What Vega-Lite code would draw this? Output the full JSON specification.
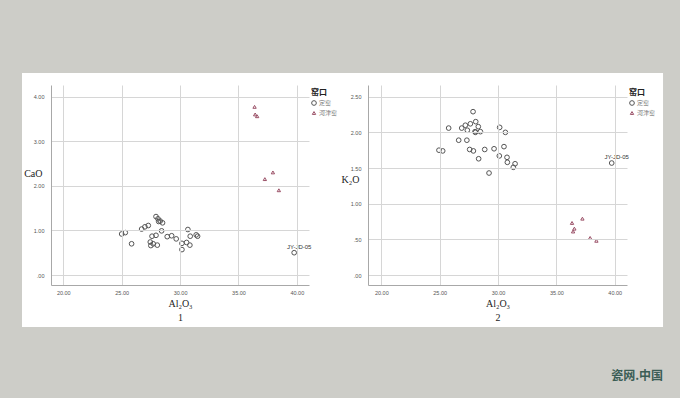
{
  "$schema": "https://vega.github.io/schema/vega-lite/v6.json",
  "background": "#cdcdc8",
  "padding": {"left": 21, "top": 73, "right": 18, "bottom": 15},
  "bounds": "flush",
  "spacing": 59,
  "title": {"text": "瓷网.中国", "orient": "bottom", "anchor": "end", "offset": 44, "font": "Noto Sans CJK SC", "fontSize": 12, "fontWeight": "bold", "color": "#3b5d55"},
  "datasets": {
    "cao": [
      {"kiln": "定窑", "Al2O3": 25.0, "CaO": 0.92},
      {"kiln": "定窑", "Al2O3": 25.31, "CaO": 0.95},
      {"kiln": "定窑", "Al2O3": 25.85, "CaO": 0.70},
      {"kiln": "定窑", "Al2O3": 26.71, "CaO": 1.03},
      {"kiln": "定窑", "Al2O3": 26.99, "CaO": 1.08},
      {"kiln": "定窑", "Al2O3": 27.28, "CaO": 1.11},
      {"kiln": "定窑", "Al2O3": 27.45, "CaO": 0.74},
      {"kiln": "定窑", "Al2O3": 27.5, "CaO": 0.66},
      {"kiln": "定窑", "Al2O3": 27.6, "CaO": 0.87},
      {"kiln": "定窑", "Al2O3": 27.7, "CaO": 0.70},
      {"kiln": "定窑", "Al2O3": 27.94, "CaO": 0.89},
      {"kiln": "定窑", "Al2O3": 27.94, "CaO": 1.31},
      {"kiln": "定窑", "Al2O3": 28.11, "CaO": 1.26},
      {"kiln": "定窑", "Al2O3": 28.17, "CaO": 1.20},
      {"kiln": "定窑", "Al2O3": 28.3, "CaO": 1.21},
      {"kiln": "定窑", "Al2O3": 28.5, "CaO": 1.17},
      {"kiln": "定窑", "Al2O3": 28.42, "CaO": 0.99},
      {"kiln": "定窑", "Al2O3": 28.05, "CaO": 0.67},
      {"kiln": "定窑", "Al2O3": 28.9, "CaO": 0.86},
      {"kiln": "定窑", "Al2O3": 29.28, "CaO": 0.88},
      {"kiln": "定窑", "Al2O3": 29.67, "CaO": 0.81},
      {"kiln": "定窑", "Al2O3": 30.16, "CaO": 0.71},
      {"kiln": "定窑", "Al2O3": 30.16, "CaO": 0.57},
      {"kiln": "定窑", "Al2O3": 30.56, "CaO": 0.73},
      {"kiln": "定窑", "Al2O3": 30.67, "CaO": 1.02},
      {"kiln": "定窑", "Al2O3": 30.84, "CaO": 0.67},
      {"kiln": "定窑", "Al2O3": 30.87, "CaO": 0.87},
      {"kiln": "定窑", "Al2O3": 31.38, "CaO": 0.90},
      {"kiln": "定窑", "Al2O3": 31.5, "CaO": 0.87},
      {"kiln": "定窑", "Al2O3": 39.77, "CaO": 0.50, "label": "JY-JD-05"},
      {"kiln": "河津窑", "Al2O3": 36.38, "CaO": 3.77},
      {"kiln": "河津窑", "Al2O3": 36.43, "CaO": 3.60},
      {"kiln": "河津窑", "Al2O3": 36.6, "CaO": 3.56},
      {"kiln": "河津窑", "Al2O3": 37.95, "CaO": 2.30},
      {"kiln": "河津窑", "Al2O3": 37.26, "CaO": 2.15},
      {"kiln": "河津窑", "Al2O3": 38.46, "CaO": 1.90}
    ],
    "k2o": [
      {"kiln": "定窑", "Al2O3": 24.94, "K2O": 1.75},
      {"kiln": "定窑", "Al2O3": 25.26, "K2O": 1.74},
      {"kiln": "定窑", "Al2O3": 25.77, "K2O": 2.06},
      {"kiln": "定窑", "Al2O3": 26.63, "K2O": 1.89},
      {"kiln": "定窑", "Al2O3": 26.89, "K2O": 2.06},
      {"kiln": "定窑", "Al2O3": 27.2, "K2O": 2.10},
      {"kiln": "定窑", "Al2O3": 27.37, "K2O": 2.03},
      {"kiln": "定窑", "Al2O3": 27.33, "K2O": 1.89},
      {"kiln": "定窑", "Al2O3": 27.57, "K2O": 1.76},
      {"kiln": "定窑", "Al2O3": 27.63, "K2O": 2.12},
      {"kiln": "定窑", "Al2O3": 27.86, "K2O": 2.29},
      {"kiln": "定窑", "Al2O3": 27.89, "K2O": 1.74},
      {"kiln": "定窑", "Al2O3": 28.03, "K2O": 2.01},
      {"kiln": "定窑", "Al2O3": 28.06, "K2O": 2.00},
      {"kiln": "定窑", "Al2O3": 28.09, "K2O": 2.15},
      {"kiln": "定窑", "Al2O3": 28.31, "K2O": 2.08},
      {"kiln": "定窑", "Al2O3": 28.34, "K2O": 1.63},
      {"kiln": "定窑", "Al2O3": 28.49, "K2O": 2.01},
      {"kiln": "定窑", "Al2O3": 28.86, "K2O": 1.76},
      {"kiln": "定窑", "Al2O3": 29.23, "K2O": 1.43},
      {"kiln": "定窑", "Al2O3": 29.66, "K2O": 1.77},
      {"kiln": "定窑", "Al2O3": 30.11, "K2O": 1.67},
      {"kiln": "定窑", "Al2O3": 30.14, "K2O": 2.07},
      {"kiln": "定窑", "Al2O3": 30.51, "K2O": 1.80},
      {"kiln": "定窑", "Al2O3": 30.63, "K2O": 2.00},
      {"kiln": "定窑", "Al2O3": 30.77, "K2O": 1.65},
      {"kiln": "定窑", "Al2O3": 30.8, "K2O": 1.58},
      {"kiln": "定窑", "Al2O3": 31.31, "K2O": 1.51},
      {"kiln": "定窑", "Al2O3": 31.46, "K2O": 1.56},
      {"kiln": "定窑", "Al2O3": 39.74, "K2O": 1.57, "label": "JY-JD-05"},
      {"kiln": "河津窑", "Al2O3": 36.34, "K2O": 0.73},
      {"kiln": "河津窑", "Al2O3": 36.54, "K2O": 0.65},
      {"kiln": "河津窑", "Al2O3": 36.43, "K2O": 0.61},
      {"kiln": "河津窑", "Al2O3": 37.23, "K2O": 0.79},
      {"kiln": "河津窑", "Al2O3": 37.89, "K2O": 0.52},
      {"kiln": "河津窑", "Al2O3": 38.43, "K2O": 0.48}
    ]
  },
  "hconcat": [
    {
      "width": 258,
      "height": 200,
      "layer": [
        {
          "data": {"values": [{}]},
          "mark": {"type": "rect", "fill": "white", "strokeWidth": 0, "zindex": 0},
          "encoding": {
            "x": {"datum": 16.467, "type": "quantitative", "scale": {"domain": [18.95, 41.04], "nice": false, "zero": false},
                  "axis": {"zindex": 1, "tickCount": 10, "values": [20, 25, 30, 35, 40], "format": ".2f", "title": ["Al₂O₃", "1"]}},
            "x2": {"datum": 43.864},
            "y": {"datum": 4.529, "type": "quantitative", "scale": {"domain": [-0.224, 4.26], "nice": false, "zero": false},
                  "axis": {"zindex": 1, "tickCount": 10, "values": [0, 1, 2, 3, 4], "labelExpr": "datum.value < 1 ? substring(format(datum.value, '.2f'), 1) : format(datum.value, '.2f')", "title": "CaO", "titleY": 88}},
            "y2": {"datum": -1.166}
          }
        },
        {
          "data": {"name": "cao"},
          "mark": {"type": "point", "filled": false, "strokeWidth": 1, "opacity": 1, "zindex": 2},
          "encoding": {
            "x": {"field": "Al2O3", "type": "quantitative", "axis": {"zindex": 1, "tickCount": 10, "values": [20, 25, 30, 35, 40], "format": ".2f", "title": ["Al₂O₃", "1"]}},
            "y": {"field": "CaO", "type": "quantitative", "axis": {"zindex": 1, "tickCount": 10, "values": [0, 1, 2, 3, 4], "labelExpr": "datum.value < 1 ? substring(format(datum.value, '.2f'), 1) : format(datum.value, '.2f')", "title": "CaO", "titleY": 88}},
            "color": {"field": "kiln", "type": "nominal", "scale": {"domain": ["定窑", "河津窑"], "range": ["#555555", "#9a4f66"]},
                      "legend": {"title": "窑口", "encode": {"labels": {"update": {"fill": {"signal": "datum.value === '河津窑' ? '#b5506c' : '#777777'"}}}}}},
            "shape": {"field": "kiln", "type": "nominal", "scale": {"domain": ["定窑", "河津窑"], "range": ["circle", "triangle-up"]},
                      "legend": {"title": "窑口", "encode": {"labels": {"update": {"fill": {"signal": "datum.value === '河津窑' ? '#b5506c' : '#777777'"}}}}}},
            "size": {"field": "kiln", "type": "nominal", "scale": {"domain": ["定窑", "河津窑"], "range": [22, 11]}, "legend": null}
          }
        },
        {
          "data": {"name": "cao"},
          "transform": [{"filter": "datum.label"}],
          "mark": {"type": "text", "font": "Liberation Sans", "fontSize": 6, "color": "#333333", "dx": 5, "dy": -6, "zindex": 2},
          "encoding": {
            "x": {"field": "Al2O3", "type": "quantitative"},
            "y": {"field": "CaO", "type": "quantitative"},
            "text": {"field": "label"}
          }
        }
      ]
    },
    {
      "width": 259,
      "height": 200,
      "layer": [
        {
          "data": {"values": [{}]},
          "mark": {"type": "rect", "fill": "white", "strokeWidth": 0, "zindex": 0},
          "encoding": {
            "x": {"datum": 16.461, "type": "quantitative", "scale": {"domain": [18.86, 41.05], "nice": false, "zero": false},
                  "axis": {"zindex": 1, "tickCount": 10, "values": [20, 25, 30, 35, 40], "format": ".2f", "title": ["Al₂O₃", "2"]}},
            "x2": {"datum": 44.138},
            "y": {"datum": 2.832, "type": "quantitative", "scale": {"domain": [-0.14, 2.664], "nice": false, "zero": false},
                  "axis": {"zindex": 1, "tickCount": 10, "values": [0, 0.5, 1, 1.5, 2, 2.5], "labelExpr": "datum.value < 1 ? substring(format(datum.value, '.2f'), 1) : format(datum.value, '.2f')", "title": "K₂O", "titleY": 94}},
            "y2": {"datum": -0.729}
          }
        },
        {
          "data": {"name": "k2o"},
          "mark": {"type": "point", "filled": false, "strokeWidth": 1, "opacity": 1, "zindex": 2},
          "encoding": {
            "x": {"field": "Al2O3", "type": "quantitative", "axis": {"zindex": 1, "tickCount": 10, "values": [20, 25, 30, 35, 40], "format": ".2f", "title": ["Al₂O₃", "2"]}},
            "y": {"field": "K2O", "type": "quantitative", "axis": {"zindex": 1, "tickCount": 10, "values": [0, 0.5, 1, 1.5, 2, 2.5], "labelExpr": "datum.value < 1 ? substring(format(datum.value, '.2f'), 1) : format(datum.value, '.2f')", "title": "K₂O", "titleY": 94}},
            "color": {"field": "kiln", "type": "nominal", "scale": {"domain": ["定窑", "河津窑"], "range": ["#555555", "#9a4f66"]},
                      "legend": {"title": "窑口", "encode": {"labels": {"update": {"fill": {"signal": "datum.value === '河津窑' ? '#b5506c' : '#777777'"}}}}}},
            "shape": {"field": "kiln", "type": "nominal", "scale": {"domain": ["定窑", "河津窑"], "range": ["circle", "triangle-up"]},
                      "legend": {"title": "窑口", "encode": {"labels": {"update": {"fill": {"signal": "datum.value === '河津窑' ? '#b5506c' : '#777777'"}}}}}},
            "size": {"field": "kiln", "type": "nominal", "scale": {"domain": ["定窑", "河津窑"], "range": [22, 11]}, "legend": null}
          }
        },
        {
          "data": {"name": "k2o"},
          "transform": [{"filter": "datum.label"}],
          "mark": {"type": "text", "font": "Liberation Sans", "fontSize": 6, "color": "#333333", "dx": 5, "dy": -6, "zindex": 2},
          "encoding": {
            "x": {"field": "Al2O3", "type": "quantitative"},
            "y": {"field": "K2O", "type": "quantitative"},
            "text": {"field": "label"}
          }
        }
      ]
    }
  ],
  "resolve": {"scale": {"color": "independent", "shape": "independent", "size": "independent"}, "legend": {"color": "independent", "shape": "independent"}},
  "config": {
    "view": {"stroke": null},
    "axis": {
      "grid": true,
      "gridColor": "#d6d6d6",
      "gridWidth": 1,
      "domainColor": "#a8a8a8",
      "domainWidth": 1,
      "ticks": false,
      "labelFont": "Liberation Sans",
      "labelFontSize": 5.5,
      "labelColor": "#555555",
      "titleFont": "Liberation Serif",
      "titleFontSize": 10,
      "titleFontWeight": "normal",
      "titleColor": "#222222"
    },
    "axisX": {"labelPadding": 5, "titleY": 13, "titleLineHeight": 14, "titleBaseline": "top"},
    "axisY": {"labelPadding": 7, "titleAngle": 0, "titleAlign": "right", "titleBaseline": "middle", "titleX": -9},
    "legend": {
      "orient": "right",
      "offset": -2,
      "padding": 4,
      "titleFont": "Noto Sans CJK SC",
      "titleFontSize": 8,
      "titleFontWeight": "bold",
      "titleColor": "#222222",
      "titlePadding": 3,
      "labelFont": "Noto Sans CJK SC",
      "labelFontSize": 6,
      "labelColor": "#777777",
      "labelOffset": 2,
      "symbolSize": 20,
      "symbolStrokeWidth": 1,
      "rowPadding": 1
    }
  }
}
